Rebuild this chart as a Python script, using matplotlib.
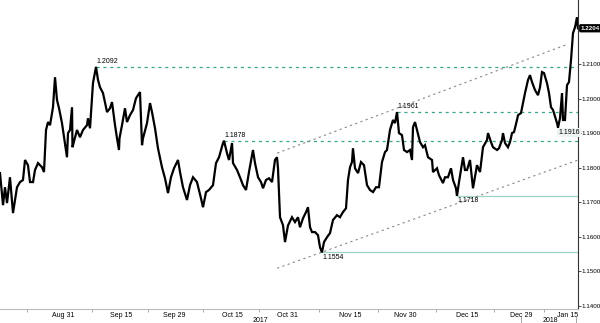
import numpy as np
import matplotlib
matplotlib.use("Agg")
import matplotlib.pyplot as plt
import matplotlib.transforms as mtransforms

plt.rcParams['font.family'] = ['Liberation Sans', 'DejaVu Sans']

# trading-day offset from Aug 15 2017, EUR/USD price
t = [0.00, 0.58, 0.96, 1.35, 1.92, 2.50, 3.27, 3.85, 4.42, 4.81, 5.38, 5.77, 6.35, 6.73, 7.31,
     8.08, 8.46, 8.85, 9.23, 9.62, 10.19, 10.58, 10.96, 11.35, 11.92, 12.31, 12.88, 13.08, 13.46,
     13.85, 13.94, 14.04, 14.81, 15.38, 15.96, 16.73, 16.92, 17.31, 17.88, 18.27, 18.46, 18.85,
     19.23, 19.81, 20.58, 21.15, 21.54, 22.12, 22.50, 22.88, 22.98, 23.46, 24.04, 24.42, 25.00,
     25.58, 26.15, 26.54, 26.92, 27.31, 27.50, 28.27, 28.85, 29.23, 29.81, 30.38, 31.15, 31.73,
     32.31, 32.88, 33.46, 34.23, 34.62, 35.19, 35.96, 36.54, 37.12, 37.88, 38.65, 39.04, 39.62,
     40.19, 40.96, 41.54, 42.12, 42.88, 43.08, 43.65, 44.04, 44.62, 44.81, 45.58, 46.15, 46.73,
     47.31, 47.88, 48.65, 49.04, 49.62, 50.19, 50.58, 51.15, 51.73, 52.31, 52.88, 53.27, 53.46,
     53.85, 54.42, 54.81, 55.38, 56.15, 56.73, 57.31, 57.69, 58.27, 58.85, 59.23, 59.62, 60.00,
     60.58, 61.15, 61.54, 61.92, 62.31, 62.88, 63.46, 64.04, 64.81, 65.38, 65.96, 66.54, 66.92,
     67.31, 67.69, 67.88, 68.27, 68.85, 69.42, 70.00, 70.58, 71.15, 71.73, 72.31, 72.88, 73.46,
     74.04, 74.42, 75.00, 75.58, 75.96, 76.35, 76.73, 77.31, 77.69, 78.27, 78.85, 79.23, 79.42,
     79.81, 80.19, 80.77, 81.35, 81.73, 82.31, 83.08, 83.27, 84.04, 84.42, 85.19, 85.58, 86.15,
     86.73, 87.12, 87.69, 87.88, 88.27, 89.04, 89.42, 89.81, 90.38, 90.96, 91.73, 92.31, 92.88,
     93.65, 93.85, 94.42, 94.81, 95.58, 95.96, 96.54, 96.73, 97.12, 97.69, 98.08, 98.46, 98.85,
     99.42, 99.62, 100.19, 100.58, 100.96, 101.54, 101.92, 102.31, 102.88, 103.46, 103.85,
     104.23, 104.62, 105.19, 105.58, 105.96, 106.35, 107.12, 107.31, 107.69, 108.08, 108.27,
     108.65, 109.04, 109.42, 109.81, 110.19, 110.58, 110.96, 111.15]
price = [1.1784, 1.1691, 1.1743, 1.1697, 1.1772, 1.1668, 1.1743, 1.1758, 1.1764, 1.1822, 1.1807,
         1.1758, 1.1758, 1.1793, 1.1813, 1.1801, 1.1787, 1.1909, 1.1932, 1.1923, 1.1975, 1.2062,
         1.1996, 1.1972, 1.1929, 1.1888, 1.1830, 1.1900, 1.1909, 1.1975, 1.1859, 1.1865, 1.1909,
         1.1888, 1.1909, 1.1923, 1.1943, 1.1914, 1.2045, 1.2077, 1.2092, 1.2054, 1.2033, 1.2016,
         1.1961, 1.1972, 1.1990, 1.1923, 1.1885, 1.1851, 1.1885, 1.1923, 1.1972, 1.1932, 1.1952,
         1.1967, 1.2001, 1.2010, 1.2019, 1.1865, 1.1885, 1.1929, 1.1987, 1.1961, 1.1914, 1.1856,
         1.1801, 1.1769, 1.1726, 1.1772, 1.1798, 1.1822, 1.1787, 1.1743, 1.1706, 1.1749, 1.1772,
         1.1758, 1.1711, 1.1685, 1.1729, 1.1735, 1.1749, 1.1813, 1.1830, 1.1871, 1.1878, 1.1842,
         1.1822, 1.1871, 1.1813, 1.1793, 1.1772, 1.1749, 1.1735, 1.1787, 1.1851, 1.1813, 1.1772,
         1.1758, 1.1740, 1.1764, 1.1769, 1.1758, 1.1822, 1.1830, 1.1798, 1.1656, 1.1633, 1.1584,
         1.1632, 1.1656, 1.1642, 1.1656, 1.1627, 1.1653, 1.1671, 1.1685, 1.1627, 1.1613, 1.1613,
         1.1604, 1.1569, 1.1554, 1.1584, 1.1598, 1.1610, 1.1648, 1.1662, 1.1656, 1.1671, 1.1682,
         1.1764, 1.1801, 1.1816, 1.1856, 1.1798, 1.1784, 1.1816, 1.1807, 1.1749, 1.1735, 1.1729,
         1.1743, 1.1743, 1.1816, 1.1845, 1.1851, 1.1909, 1.1938, 1.1929, 1.1961, 1.1900, 1.1894,
         1.1851, 1.1845, 1.1851, 1.1822, 1.1917, 1.1932, 1.1909, 1.1874, 1.1859, 1.1865, 1.1830,
         1.1822, 1.1787, 1.1798, 1.1778, 1.1755, 1.1772, 1.1772, 1.1798, 1.1764, 1.1740, 1.1718,
         1.1758, 1.1830, 1.1793, 1.1793, 1.1822, 1.1740, 1.1807, 1.1787, 1.1859, 1.1880, 1.1900,
         1.1874, 1.1859, 1.1851, 1.1856, 1.1880, 1.1900, 1.1871, 1.1859, 1.1874, 1.1900, 1.1903,
         1.1938, 1.1952, 1.1958, 1.1987, 1.2016, 1.2054, 1.2068, 1.2048, 1.2025, 1.2010, 1.2033,
         1.2077, 1.2074, 1.2045, 1.2016, 1.1975, 1.1967, 1.1929, 1.1916, 1.1943, 1.2016, 1.1938,
         1.1938, 1.2039, 1.2048, 1.2112, 1.2190, 1.2207, 1.2236, 1.2204]

# marked levels: (start offset, level)
resist_start = [18.46, 43.08, 76.35]
resist_level = [1.2092, 1.1878, 1.1961]
support_start = [61.92, 87.88]
support_level = [1.1554, 1.1718]
low_label = (107.31, 1.1916)
last_price = 1.2204

# channel lines
upper_t = [53.3, 109.2]
upper_p = [1.1842, 1.2158]
lower_t = [53.3, 111.0]
lower_p = [1.1508, 1.1821]

date_labels = ['Aug 31', 'Sep 15', 'Sep 29', 'Oct 15', 'Oct 31', 'Nov 15', 'Nov 30',
               'Dec 15', 'Dec 29', 'Jan 15']
date_pos = [12.1, 23.3, 33.5, 44.6, 55.2, 67.3, 77.9, 89.8, 100.2, 109.2]
years = ['2017', '2018']
year_pos = [50.0, 105.8]
year_breaks = [100.2, 110.8]
y_ticks = [1.14, 1.15, 1.16, 1.17, 1.18, 1.19, 1.20, 1.21, 1.22]

teal = '#3aa690'
teal_light = '#9fd4c8'

fig = plt.figure(figsize=(6, 3.23), dpi=100)
ax = fig.add_axes([0.0, 0.0424, 0.9633, 0.9576])
x_end = 111.15
ax.set_xlim(0, x_end)
ax.set_ylim(1.1389, 1.2286)

for s, lv in zip(resist_start, resist_level):
    ax.plot([s, x_end], [lv, lv], color=teal, lw=0.9, ls=(0, (2.5, 3)))
    ax.text(s, lv + 0.0005, '%.4f' % lv, fontsize=5, ha='left', va='bottom')
for s, lv in zip(support_start, support_level):
    ax.plot([s, x_end], [lv, lv], color=teal_light, lw=0.9)
    ax.text(s, lv - 0.0004, '%.4f' % lv, fontsize=5, ha='left', va='top')

ax.plot(upper_t, upper_p, color='#888888', lw=0.8, ls=(0, (2, 3)))
ax.plot(lower_t, lower_p, color='#888888', lw=0.8, ls=(0, (2, 3)))

ax.plot(t, price, color='black', lw=1.6, solid_joinstyle='miter')

ax.text(low_label[0], low_label[1] - 0.0004, '%.4f' % low_label[1], fontsize=5,
        ha='left', va='top',
        bbox=dict(boxstyle='square,pad=0.15', fc='#eef4f2', ec='none'))

# axes styling
for side in ['top', 'left']:
    ax.spines[side].set_visible(False)
ax.spines['right'].set_color('#333333')
ax.spines['right'].set_linewidth(0.8)
ax.spines['bottom'].set_color('#bbbbbb')
ax.spines['bottom'].set_linewidth(0.8)

ax.yaxis.tick_right()
ax.set_yticks(y_ticks)
ax.set_yticklabels(['%.4f' % v if v < 1.215 else '' for v in y_ticks])
ax.tick_params(axis='y', labelsize=4.5, length=2, width=0.6, pad=0.5, color='#333333')

ax.set_xticks(date_pos)
ax.set_xticklabels(date_labels)
ax.tick_params(axis='x', labelsize=5, length=0, pad=2)
mid = [(a + b) / 2 for a, b in zip([0] + date_pos[:-1], date_pos)]
ax.set_xticks(mid[1:] + [5.2], minor=True)
ax.tick_params(axis='x', which='minor', length=2, width=0.6, color='#999999')

trans = mtransforms.blended_transform_factory(ax.transData, ax.transAxes)
for yr, xp in zip(years, year_pos):
    ax.text(xp, -0.035, yr, transform=trans, fontsize=5, ha='center', va='center')
for xb in year_breaks:
    ax.plot([xb, xb], [-0.025, -0.045], transform=trans, color='#999999', lw=0.6,
            clip_on=False)

# last price tag
ax.annotate('%.4f' % last_price, xy=(1.0, last_price), xycoords=('axes fraction', 'data'),
            xytext=(2, 0), textcoords='offset points', fontsize=4.5, color='white',
            ha='left', va='center', fontweight='bold',
            bbox=dict(boxstyle='round,pad=0.15', fc='black', ec='black'))

fig.savefig('out.png', dpi=100)
